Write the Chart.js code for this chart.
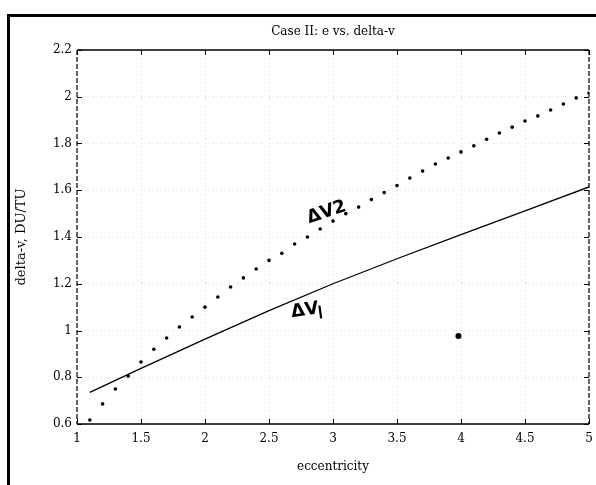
<!DOCTYPE html>
<html>
<head>
<meta charset="utf-8">
<script src="https://cdn.jsdelivr.net/npm/chart.js@4/dist/chart.umd.min.js"></script>
<style>
  html, body { margin: 0; padding: 0; background: #fff; }
  canvas { display: block; }
</style>
</head>
<body>
<canvas id="c" width="596" height="485"></canvas>
<script>
// Axis ticks
const xTickValues = [1, 1.5, 2, 2.5, 3, 3.5, 4, 4.5, 5];
const yTickValues = [0.6, 0.8, 1, 1.2, 1.4, 1.6, 1.8, 2, 2.2];

// Delta-v 2 (dotted series), eccentricity step 0.1
const dv2Ecc = [1.1, 1.2, 1.3, 1.4, 1.5, 1.6, 1.7, 1.8, 1.9, 2.0,
                2.1, 2.2, 2.3, 2.4, 2.5, 2.6, 2.7, 2.8, 2.9, 3.0,
                3.1, 3.2, 3.3, 3.4, 3.5, 3.6, 3.7, 3.8, 3.9, 4.0,
                4.1, 4.2, 4.3, 4.4, 4.5, 4.6, 4.7, 4.8, 4.9, 5.0];
const dv2Values = [0.617, 0.686, 0.750, 0.805, 0.865, 0.920, 0.968, 1.015, 1.058, 1.100,
                   1.143, 1.186, 1.225, 1.263, 1.300, 1.330, 1.370, 1.400, 1.434, 1.468,
                   1.500, 1.528, 1.560, 1.590, 1.620, 1.652, 1.682, 1.712, 1.738, 1.764,
                   1.790, 1.818, 1.845, 1.870, 1.896, 1.918, 1.943, 1.969, 1.995, 2.016];

// Delta-v 1 (solid curve)
const dv1Ecc = [1.1, 1.5, 2.0, 2.5, 3.0, 3.5, 4.0, 4.5, 5.0];
const dv1Values = [0.735, 0.838, 0.963, 1.085, 1.200, 1.307, 1.410, 1.512, 1.614];

// Lone marked point
const spotEcc = [3.98];
const spotValues = [0.976];

// Hand-written curve labels, anchored in data coordinates
const noteText = ['\u0394V2', '\u0394V'];
const noteEcc = [2.95, 2.78];
const noteValues = [1.505, 1.085];

const toXY = (xs, ys) => xs.map((x, i) => ({ x: x, y: ys[i] }));

const frameAndTicks = {
  id: 'frameAndTicks',
  afterDatasetsDraw(chart) {
    const { ctx, scales: { x, y } } = chart;
    ctx.save();

    // hand-written labels
    ctx.fillStyle = '#000';
    ctx.font = 'bold 18px "DejaVu Sans"';
    ctx.textBaseline = 'middle';
    ctx.textAlign = 'center';
    const rot = [-0.32, -0.14];
    noteText.forEach((t, i) => {
      const px = x.getPixelForValue(noteEcc[i]);
      const py = y.getPixelForValue(noteValues[i]);
      ctx.save();
      ctx.translate(px, py);
      ctx.rotate(rot[i]);
      ctx.fillText(t, 0, 0);
      if (i === 1) {
        ctx.fillRect(14, -3, 2.2, 13);
      }
      ctx.restore();
    });
    ctx.restore();
  },
  afterDraw(chart) {
    const { ctx, chartArea: a, scales: { x, y } } = chart;
    ctx.save();
    ctx.strokeStyle = '#000';

    // outer frame
    ctx.lineWidth = 3;
    ctx.beginPath();
    ctx.moveTo(8.5, 485);
    ctx.lineTo(8.5, 15.5);
    ctx.lineTo(596, 15.5);
    ctx.stroke();

    // plot box: solid top/bottom, broken sides
    ctx.lineWidth = 1.5;
    ctx.beginPath();
    ctx.moveTo(a.left, a.top); ctx.lineTo(a.right, a.top);
    ctx.moveTo(a.left, a.bottom); ctx.lineTo(a.right, a.bottom);
    ctx.stroke();
    ctx.lineWidth = 1.2;
    ctx.setLineDash([5, 2]);
    ctx.beginPath();
    ctx.moveTo(a.left, a.top); ctx.lineTo(a.left, a.bottom);
    ctx.moveTo(a.right, a.top); ctx.lineTo(a.right, a.bottom);
    ctx.stroke();
    ctx.setLineDash([]);

    // inward tick marks on all four sides
    ctx.lineWidth = 1;
    ctx.beginPath();
    xTickValues.forEach(v => {
      const px = Math.round(x.getPixelForValue(v)) + 0.5;
      ctx.moveTo(px, a.bottom); ctx.lineTo(px, a.bottom - 5);
      ctx.moveTo(px, a.top); ctx.lineTo(px, a.top + 5);
    });
    yTickValues.forEach(v => {
      const py = Math.round(y.getPixelForValue(v)) + 0.5;
      ctx.moveTo(a.left, py); ctx.lineTo(a.left + 5, py);
      ctx.moveTo(a.right, py); ctx.lineTo(a.right - 5, py);
    });
    ctx.stroke();
    ctx.restore();
  }
};

const serif = 'DejaVu Serif';

new Chart(document.getElementById('c'), {
  type: 'scatter',
  data: {
    datasets: [
      {
        label: '\u0394V1',
        data: toXY(dv1Ecc, dv1Values),
        showLine: true,
        borderColor: '#000',
        borderWidth: 1.3,
        pointRadius: 0,
        tension: 0
      },
      {
        label: '\u0394V2',
        data: toXY(dv2Ecc, dv2Values),
        showLine: false,
        pointStyle: 'circle',
        pointRadius: 1.8,
        pointBackgroundColor: '#000',
        pointBorderColor: '#000',
        pointBorderWidth: 0
      },
      {
        label: 'mark',
        data: toXY(spotEcc, spotValues),
        showLine: false,
        pointRadius: 3,
        pointBackgroundColor: '#000',
        pointBorderWidth: 0
      }
    ]
  },
  options: {
    responsive: false,
    animation: false,
    layout: { autoPadding: false, padding: { left: 0, right: 7, top: 0, bottom: 0 } },
    plugins: {
      legend: { display: false },
      tooltip: { enabled: false },
      title: {
        display: true,
        fullSize: false,
        text: 'Case II: e vs. delta-v',
        color: '#000',
        font: { family: serif, size: 12, weight: 'normal' },
        padding: { top: 25, bottom: 10.6 }
      }
    },
    scales: {
      x: {
        type: 'linear',
        min: 1, max: 5,
        afterBuildTicks: s => { s.ticks = xTickValues.map(v => ({ value: v })); },
        afterFit: s => { s.height = 61; s.paddingLeft = 0; s.paddingRight = 0; },
        ticks: {
          color: '#000',
          font: { family: serif, size: 12 },
          padding: 8,
          maxRotation: 0,
          autoSkip: false,
          callback: v => String(v)
        },
        grid: { color: '#cfcfcf', lineWidth: 1, drawTicks: false },
        border: { display: false, dash: [1, 7] },
        title: {
          display: true,
          text: 'eccentricity',
          color: '#000',
          font: { family: serif, size: 12 },
          padding: { top: 0, bottom: 11 }
        }
      },
      y: {
        type: 'linear',
        min: 0.6, max: 2.2,
        afterBuildTicks: s => { s.ticks = yTickValues.map(v => ({ value: v })); },
        afterFit: s => { s.width = 77; s.paddingTop = 0; s.paddingBottom = 0; },
        ticks: {
          color: '#000',
          font: { family: serif, size: 12 },
          padding: 5,
          autoSkip: false,
          callback: v => String(v)
        },
        grid: { color: '#cfcfcf', lineWidth: 1, drawTicks: false },
        border: { display: false, dash: [1, 7] },
        title: {
          display: true,
          text: 'delta-v, DU/TU',
          color: '#000',
          font: { family: serif, size: 13 },
          padding: { top: 14, bottom: 0 }
        }
      }
    }
  },
  plugins: [frameAndTicks]
});
</script>
</body>
</html>
